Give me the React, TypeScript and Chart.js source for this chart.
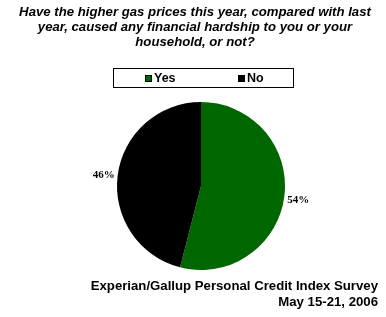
import React, { useEffect, useRef } from "react";
import { Chart, registerables } from "chart.js";

Chart.register(...registerables);

const TITLE_LINES = [
  "Have the higher gas prices this year, compared with last",
  "year, caused any financial hardship to you or your",
  "household, or not?",
];
const LABELS = ["Yes", "No"];
const VALUES = [54, 46];
const COLORS = ["#006600", "#000000"];
const FOOTER_LINES = ["Experian/Gallup Personal Credit Index Survey", "May 15-21, 2006"];

const decorPlugin = {
  id: "decor",
  afterDraw(chart: any) {
    const ctx = chart.ctx as CanvasRenderingContext2D;
    ctx.save();
    ctx.fillStyle = "#000";
    ctx.textBaseline = "middle";

    // Title
    ctx.font = "italic bold 13.2px 'Liberation Sans', Arial, sans-serif";
    ctx.textAlign = "center";
    TITLE_LINES.forEach((line, i) => ctx.fillText(line, 195, 12 + i * 15));

    // Legend box
    ctx.strokeStyle = "#000";
    ctx.lineWidth = 1;
    ctx.strokeRect(113.5, 68.5, 180, 19);
    ctx.font = "bold 12.5px 'Liberation Sans', Arial, sans-serif";
    ctx.textAlign = "left";
    const labels = chart.data.labels as string[];
    const colors = chart.data.datasets[0].backgroundColor as string[];
    labels.forEach((lab, i) => {
      const sx = 145 + i * 93;
      ctx.fillStyle = colors[i];
      ctx.fillRect(sx, 75, 7, 7);
      ctx.strokeStyle = "#000";
      ctx.strokeRect(sx + 0.5, 75.5, 6, 6);
      ctx.fillStyle = "#000";
      ctx.fillText(lab, sx + 9, 78.5);
    });

    // Percent labels
    const meta = chart.getDatasetMeta(0);
    const data = chart.data.datasets[0].data as number[];
    ctx.font = "bold 11px 'Liberation Serif', 'Times New Roman', serif";
    meta.data.forEach((arc: any, i: number) => {
      const p = arc.getProps(["x", "y", "startAngle", "endAngle", "outerRadius"], true);
      const mid = (p.startAngle + p.endAngle) / 2;
      const r = p.outerRadius + 3;
      const ax = p.x + Math.cos(mid) * r;
      const ay = p.y + Math.sin(mid) * r + (Math.cos(mid) >= 0 ? 3 : 0);
      ctx.textAlign = Math.cos(mid) >= 0 ? "left" : "right";
      ctx.fillText(data[i] + "%", ax, ay);
    });

    // Footer
    ctx.font = "bold 13.2px 'Liberation Sans', Arial, sans-serif";
    ctx.textAlign = "right";
    FOOTER_LINES.forEach((line, i) => ctx.fillText(line, 378, 286 + i * 16.5));
    ctx.restore();
  },
};

export default function App() {
  const ref = useRef<HTMLCanvasElement | null>(null);
  useEffect(() => {
    if (!ref.current) return;
    const chart = new Chart(ref.current, {
      type: "pie",
      data: {
        labels: LABELS,
        datasets: [
          {
            data: VALUES,
            backgroundColor: COLORS,
            borderWidth: 0,
            hoverOffset: 0,
            offset: 0,
          },
        ],
      },
      options: {
        responsive: false,
        animation: false,
        events: [],
        layout: { padding: { left: 117, right: 101, top: 102, bottom: 47 } },
        plugins: {
          legend: { display: false },
          tooltip: { enabled: false },
          title: { display: false },
        },
      },
      plugins: [decorPlugin],
    });
    return () => chart.destroy();
  }, []);
  return (
    <div style={{ position: "fixed", left: 0, top: 0, width: 386, height: 317, background: "#fff" }}>
      <canvas ref={ref} width={386} height={317} />
    </div>
  );
}
